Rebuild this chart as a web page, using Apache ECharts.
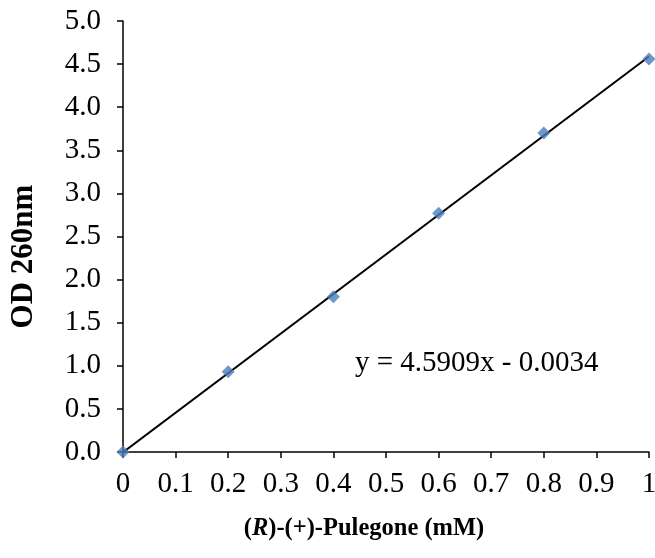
<!DOCTYPE html>
<html>
<head>
<meta charset="utf-8">
<script src="https://cdn.jsdelivr.net/npm/echarts@6/dist/echarts.min.js"></script>
<style>
  html, body { margin: 0; padding: 0; background: #fff; }
  #main { width: 655px; height: 558px; }
</style>
</head>
<body>
<div id="main"></div>
<script>
// measured points
var concX = [0, 0.2, 0.4, 0.6, 0.8, 1];
var odY = [0, 0.93, 1.80, 2.77, 3.70, 4.56];
// linear fit y = 4.5909x - 0.0034, end points
var fitX = [0, 1];
var fitY = [-0.0034, 4.5875];
var eqText = 'y = 4.5909x - 0.0034';

var pts = concX.map(function (x, i) { return [x, odY[i]]; });
var fit = fitX.map(function (x, i) { return [x, fitY[i]]; });

var font = '"Liberation Serif", "Times New Roman", serif';

var option = {
    backgroundColor: '#fff',
    animation: false,
    grid: {
        left: 123,
        right: 6,
        top: 21,
        bottom: 106,
        outerBoundsMode: 'none'
    },
    xAxis: {
        type: 'value',
        min: 0,
        max: 1,
        interval: 0.1,
        name: '{b|(}{i|R}{b|)-(+)-Pulegone (mM)}',
        nameLocation: 'middle',
        nameGap: 64,
        nameTextStyle: {
            padding: [0, 44, 0, 0],   // title sits a bit left of centre
            rich: {
                i: { fontFamily: font, fontSize: 24.5, fontWeight: 'bold', fontStyle: 'italic', color: '#000' },
                b: { fontFamily: font, fontSize: 24.5, fontWeight: 'bold', color: '#000' }
            }
        },
        axisLine: { lineStyle: { color: '#000', width: 1.5 } },
        axisTick: { inside: false, length: 6, lineStyle: { color: '#000', width: 1.5 } },
        axisLabel: { fontFamily: font, fontSize: 29, color: '#000', margin: 18 },
        splitLine: { show: false }
    },
    yAxis: {
        type: 'value',
        min: 0,
        max: 5,
        interval: 0.5,
        name: 'OD 260nm',
        nameLocation: 'middle',
        nameGap: 84,
        nameRotate: 90,
        nameTextStyle: {
            fontFamily: font, fontSize: 31, fontWeight: 'bold', color: '#000',
            padding: [0, 40, 0, 0]
        },
        axisLine: { show: true, lineStyle: { color: '#000', width: 1.5 } },
        axisTick: { show: true, inside: false, length: 6, lineStyle: { color: '#000', width: 1.5 } },
        axisLabel: {
            fontFamily: font, fontSize: 29, color: '#000', margin: 22,
            formatter: function (v) { return v.toFixed(1); }
        },
        splitLine: { show: false }
    },
    graphic: [{
        type: 'text',
        left: 355,
        top: 349,
        style: { text: eqText, font: '29px ' + font, fill: '#000' }
    }],
    series: [
        {
            type: 'line',
            data: fit,
            symbol: 'none',
            lineStyle: { color: '#000', width: 2 },
            z: 2
        },
        {
            type: 'scatter',
            data: pts,
            symbol: 'diamond',
            symbolSize: [13, 13],
            itemStyle: { color: '#4a7ebb' },
            clip: false,
            z: 3
        }
    ]
};

var chart = echarts.init(document.getElementById('main'));
chart.setOption(option);
</script>
</body>
</html>
